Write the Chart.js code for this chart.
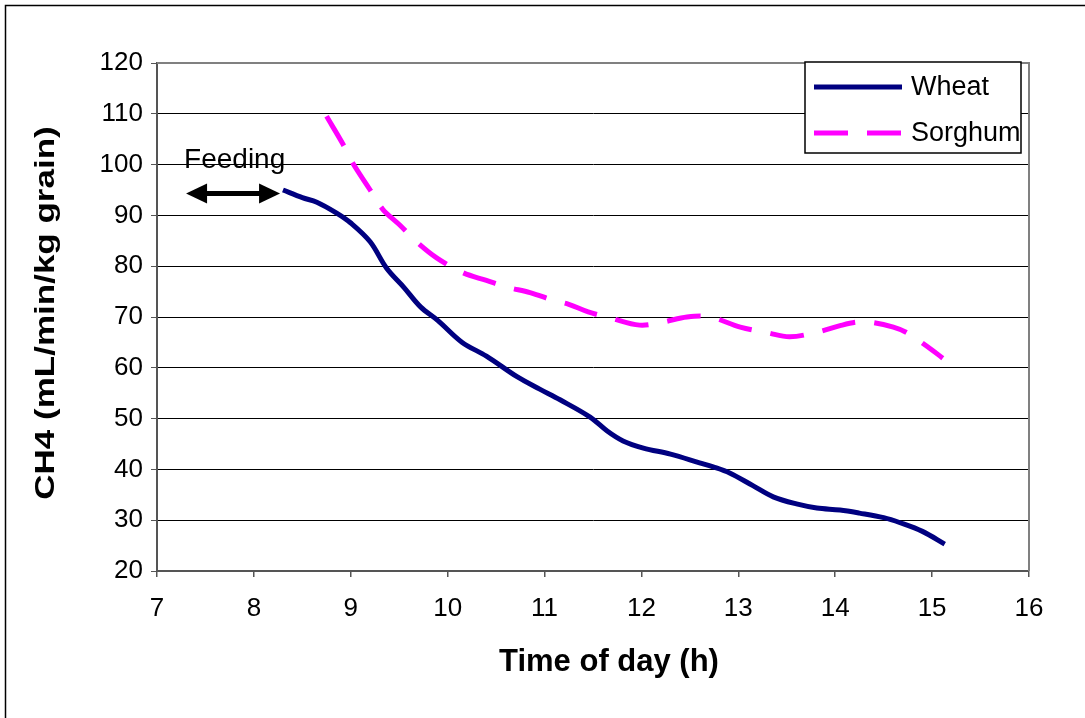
<!DOCTYPE html>
<html>
<head>
<meta charset="utf-8">
<title>CH4 output after feeding</title>
<script src="https://cdn.jsdelivr.net/npm/chart.js"></script>
<style>
    html, body { margin: 0; padding: 0; background: #fff; }
    #wrap { width: 1085px; height: 718px; }
</style>
</head>
<body>
<div id="wrap">
    <canvas id="ch4-chart" width="1085" height="718"></canvas>
</div>
<script>
// time of day (h) and CH4 (mL/min/kg grain) for each grain
const wheatHours = [8.3, 8.5, 8.65, 8.85, 9.0, 9.2, 9.37, 9.55, 9.72, 9.9, 10.15, 10.4, 10.72, 10.95,
    11.16, 11.47, 11.65, 11.81, 12.02, 12.3, 12.6, 12.74, 12.91, 13.15, 13.36, 13.6, 13.81,
    14.05, 14.25, 14.5, 14.67, 14.9, 15.13];
const wheatCH4 = [95.0, 93.5, 92.6, 90.5, 88.5, 84.8, 79.6, 75.8, 72.0, 69.3, 65.0, 62.3, 58.2, 55.8,
    53.7, 50.3, 47.5, 45.6, 44.2, 43.0, 41.3, 40.5, 39.3, 36.8, 34.6, 33.2, 32.4,
    32.0, 31.4, 30.5, 29.5, 27.8, 25.3];

const sorghumHours = [8.75, 8.92, 9.02, 9.2, 9.33, 9.5, 9.68, 9.89, 10.16, 10.4, 10.61, 10.85, 11.09,
    11.25, 11.45, 11.68, 11.98, 12.22, 12.47, 12.71, 13.02, 13.3, 13.53, 13.81, 14.05, 14.22,
    14.36, 14.6, 14.74, 14.95, 15.11];
const sorghumCH4 = [109.5, 104.0, 100.3, 95.0, 91.2, 88.2, 84.8, 81.6, 78.7, 77.2, 75.9, 74.8, 73.3,
    72.5, 71.0, 69.8, 68.4, 69.0, 70.0, 70.0, 68.0, 66.9, 66.1, 67.0, 68.3, 69.0,
    69.0, 68.0, 66.9, 64.2, 61.9];

// feeding period marker
const feedFrom = 7.3;
const feedTo = 8.27;
const feedLevel = 94.3;

const xTitle = 'Time of day (h)';
const yTitle = 'CH4 (mL/min/kg grain)';

const FONT = "'Liberation Sans', Arial, sans-serif";

function toPoints(xs, ys) {
    return xs.map((x, i) => ({ x: x, y: ys[i] }));
}

// outer frame lines (left and top)
const outerFrame = {
    id: 'outerFrame',
    beforeDraw(chart) {
        const ctx = chart.ctx;
        ctx.save();
        ctx.fillStyle = '#fff';
        ctx.fillRect(0, 0, chart.width, chart.height);
        ctx.strokeStyle = '#000';
        ctx.lineWidth = 1.5;
        ctx.beginPath();
        ctx.moveTo(5.5, chart.height);
        ctx.lineTo(5.5, 5.5);
        ctx.lineTo(chart.width, 5.5);
        ctx.stroke();
        ctx.restore();
    }
};

// grey border round the plot area
const plotBorder = {
    id: 'plotBorder',
    beforeDatasetsDraw(chart) {
        const { ctx, chartArea: a } = chart;
        ctx.save();
        ctx.strokeStyle = '#808080';
        ctx.lineWidth = 2;
        ctx.beginPath();
        ctx.moveTo(a.left, a.top);
        ctx.lineTo(a.right, a.top);
        ctx.lineTo(a.right, a.bottom);
        ctx.stroke();
        ctx.restore();
    }
};

// axis titles; the vertical one is drawn a bit stretched along its length
const axisTitles = {
    id: 'axisTitles',
    afterDraw(chart) {
        const { ctx, chartArea: a } = chart;
        ctx.save();
        ctx.fillStyle = '#000';
        ctx.textAlign = 'center';
        ctx.textBaseline = 'middle';
        ctx.font = 'bold 31px ' + FONT;
        ctx.fillText(xTitle, 609, 662);

        ctx.translate(45, (a.top + a.bottom) / 2 - 4);
        ctx.rotate(-Math.PI / 2);
        ctx.scale(1.25, 1);
        ctx.font = 'bold 28px ' + FONT;
        ctx.fillText(yTitle, 0, 1);
        ctx.restore();
    }
};

// double arrow + "Feeding" label
const feedingMark = {
    id: 'feedingMark',
    afterDatasetsDraw(chart) {
        const ctx = chart.ctx;
        const xs = chart.scales.x, ys = chart.scales.y;
        const x1 = xs.getPixelForValue(feedFrom);
        const x2 = xs.getPixelForValue(feedTo);
        const y = ys.getPixelForValue(feedLevel);
        const head = 21, half = 10;
        ctx.save();
        ctx.strokeStyle = '#000';
        ctx.fillStyle = '#000';
        ctx.lineWidth = 5;
        ctx.beginPath();
        ctx.moveTo(x1 + head - 2, y);
        ctx.lineTo(x2 - head + 2, y);
        ctx.stroke();
        ctx.beginPath();
        ctx.moveTo(x1, y);
        ctx.lineTo(x1 + head, y - half);
        ctx.lineTo(x1 + head, y + half);
        ctx.closePath();
        ctx.fill();
        ctx.beginPath();
        ctx.moveTo(x2, y);
        ctx.lineTo(x2 - head, y - half);
        ctx.lineTo(x2 - head, y + half);
        ctx.closePath();
        ctx.fill();
        ctx.font = '28px ' + FONT;
        ctx.textBaseline = 'alphabetic';
        ctx.textAlign = 'left';
        ctx.fillText('Feeding', x1 - 2, y - 26);
        ctx.restore();
    }
};

// boxed legend in the top right corner of the plot
const boxLegend = {
    id: 'boxLegend',
    afterDatasetsDraw(chart) {
        const { ctx, chartArea: a } = chart;
        const w = 216, h = 91;
        const left = a.right - 8 - w, top = a.top - 1;
        ctx.save();
        ctx.fillStyle = '#fff';
        ctx.fillRect(left, top, w, h);
        ctx.strokeStyle = '#000';
        ctx.lineWidth = 1.5;
        ctx.strokeRect(left, top, w, h);
        ctx.font = '27px ' + FONT;
        ctx.textBaseline = 'middle';
        chart.data.datasets.forEach((ds, i) => {
            const y = top + 25 + i * 46;
            ctx.strokeStyle = ds.borderColor;
            ctx.lineWidth = ds.borderWidth;
            ctx.setLineDash(ds.borderDash || []);
            ctx.beginPath();
            ctx.moveTo(left + 9, y);
            ctx.lineTo(left + 97, y);
            ctx.stroke();
            ctx.setLineDash([]);
            ctx.fillStyle = '#000';
            ctx.fillText(ds.label, left + 106, y + 1);
        });
        ctx.restore();
    }
};

new Chart(document.getElementById('ch4-chart'), {
    type: 'line',
    data: {
        datasets: [{
            label: 'Wheat',
            data: toPoints(wheatHours, wheatCH4),
            borderColor: '#000080',
            borderWidth: 5,
            pointRadius: 0,
            tension: 0.35
        }, {
            label: 'Sorghum',
            data: toPoints(sorghumHours, sorghumCH4),
            borderColor: '#ff00ff',
            borderWidth: 5,
            borderDash: [34, 19],
            pointRadius: 0,
            tension: 0.35
        }]
    },
    options: {
        responsive: false,
        animation: false,
        layout: { padding: { top: 63, right: 56, left: 0, bottom: 0 } },
        plugins: {
            legend: { display: false },
            tooltip: { enabled: false }
        },
        scales: {
            x: {
                type: 'linear',
                min: 7,
                max: 16,
                ticks: {
                    stepSize: 1,
                    color: '#000',
                    padding: 16,
                    maxRotation: 0,
                    font: { family: FONT, size: 26 }
                },
                grid: {
                    drawOnChartArea: false,
                    drawTicks: true,
                    tickLength: 6,
                    color: '#555',
                    lineWidth: 1.5
                },
                border: { color: '#555', width: 2 },
                afterFit(scale) { scale.height = 147; }
            },
            y: {
                min: 20,
                max: 120,
                ticks: {
                    stepSize: 10,
                    color: '#000',
                    padding: 8,
                    font: { family: FONT, size: 26 }
                },
                grid: {
                    color: (c) => c.tick && c.tick.value === 120 ? '#808080' : '#000',
                    lineWidth: 1,
                    tickLength: 6,
                    tickColor: '#555'
                },
                border: { color: '#555', width: 2 },
                afterFit(scale) { scale.width = 157; }
            }
        }
    },
    plugins: [outerFrame, plotBorder, feedingMark, boxLegend, axisTitles]
});
</script>
</body>
</html>
